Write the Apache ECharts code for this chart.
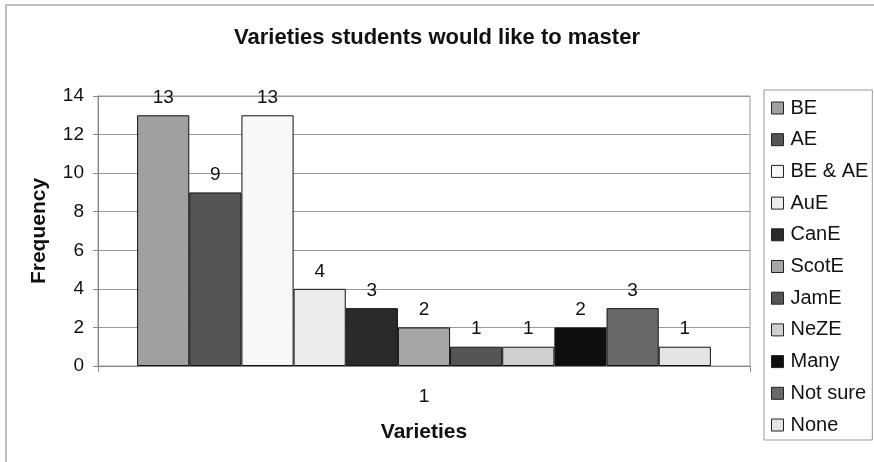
<!DOCTYPE html>
<html>
<head>
<meta charset="utf-8">
<script src="https://cdn.jsdelivr.net/npm/echarts@6/dist/echarts.min.js"></script>
<style>
  html, body { margin: 0; padding: 0; background: #fff; }
  #chart { width: 874px; height: 462px; }
</style>
</head>
<body>
<div id="chart"></div>
<script>
// Survey answers: which English varieties students would like to master
const categories = ['1'];
const varieties = ['BE', 'AE', 'BE & AE', 'AuE', 'CanE', 'ScotE', 'JamE', 'NeZE', 'Many', 'Not sure', 'None'];
const frequencies = [13, 9, 13, 4, 3, 2, 1, 1, 2, 3, 1];
const fills = ['#a0a0a0', '#555555', '#f8f8f8', '#ececec', '#2a2a2a', '#a6a6a6', '#555555', '#d0d0d0', '#0e0e0e', '#696969', '#e4e4e4'];
const yTicks = { min: 0, max: 14, step: 2 };

const font = 'Liberation Sans, Arial, sans-serif';

const series = varieties.map((name, i) => ({
  name: name,
  type: 'bar',
  data: [frequencies[i]],
  barGap: '0%',
  barCategoryGap: '12%',
  itemStyle: { color: fills[i], borderColor: '#111', borderWidth: 1 },
  label: {
    show: true,
    position: 'top',
    distance: 8,
    fontFamily: font,
    fontSize: 19,
    color: '#111'
  },
  emphasis: { disabled: true }
}));

const chart = echarts.init(document.getElementById('chart'), null, { renderer: 'canvas' });
chart.setOption({
  animation: false,
  backgroundColor: '#fff',
  textStyle: { fontFamily: font },
  title: {
    text: 'Varieties students would like to master',
    left: 'center',
    top: 22,
    textStyle: { fontFamily: font, fontSize: 22, fontWeight: 'bold', color: '#111' }
  },
  graphic: [{
    type: 'rect',
    shape: { x: 6, y: 5, width: 900, height: 500 },
    style: { fill: null, stroke: '#c0c0c0', lineWidth: 2 },
    silent: true
  }],
  legend: {
    orient: 'vertical',
    left: 764,
    top: 90,
    padding: [8, 4, 5, 7],
    itemWidth: 12,
    itemHeight: 12,
    itemGap: 11.7,
    icon: 'rect',
    itemStyle: { borderWidth: 1, borderColor: '#222' },
    borderColor: '#999',
    borderWidth: 1,
    selectedMode: false,
    textStyle: { fontFamily: font, fontSize: 20, color: '#111', padding: [0, 0, 0, 2] },
    data: varieties
  },
  grid: {
    left: 98,
    right: 124,
    top: 96,
    bottom: 96,
    show: true,
    borderColor: '#999',
    borderWidth: 1,
    backgroundColor: '#fff'
  },
  xAxis: {
    type: 'category',
    data: categories,
    name: 'Varieties',
    nameLocation: 'middle',
    nameGap: 56,
    nameTextStyle: { fontFamily: font, fontSize: 21, fontWeight: 'bold', color: '#111' },
    axisLine: { lineStyle: { color: '#888', width: 1 } },
    axisTick: { show: true, length: 6, lineStyle: { color: '#888' } },
    axisLabel: { fontFamily: font, fontSize: 19, color: '#111', margin: 21 }
  },
  yAxis: {
    type: 'value',
    min: yTicks.min,
    max: yTicks.max,
    interval: yTicks.step,
    name: 'Frequency',
    nameLocation: 'middle',
    nameGap: 48,
    nameTextStyle: { fontFamily: font, fontSize: 21, fontWeight: 'bold', color: '#111' },
    axisLine: { show: true, lineStyle: { color: '#888', width: 1 } },
    axisTick: { show: true, length: 5, lineStyle: { color: '#888' } },
    axisLabel: { fontFamily: font, fontSize: 19, color: '#111', margin: 14 },
    splitLine: { show: true, lineStyle: { color: '#999', width: 1 } }
  },
  series: series
});
</script>
</body>
</html>
